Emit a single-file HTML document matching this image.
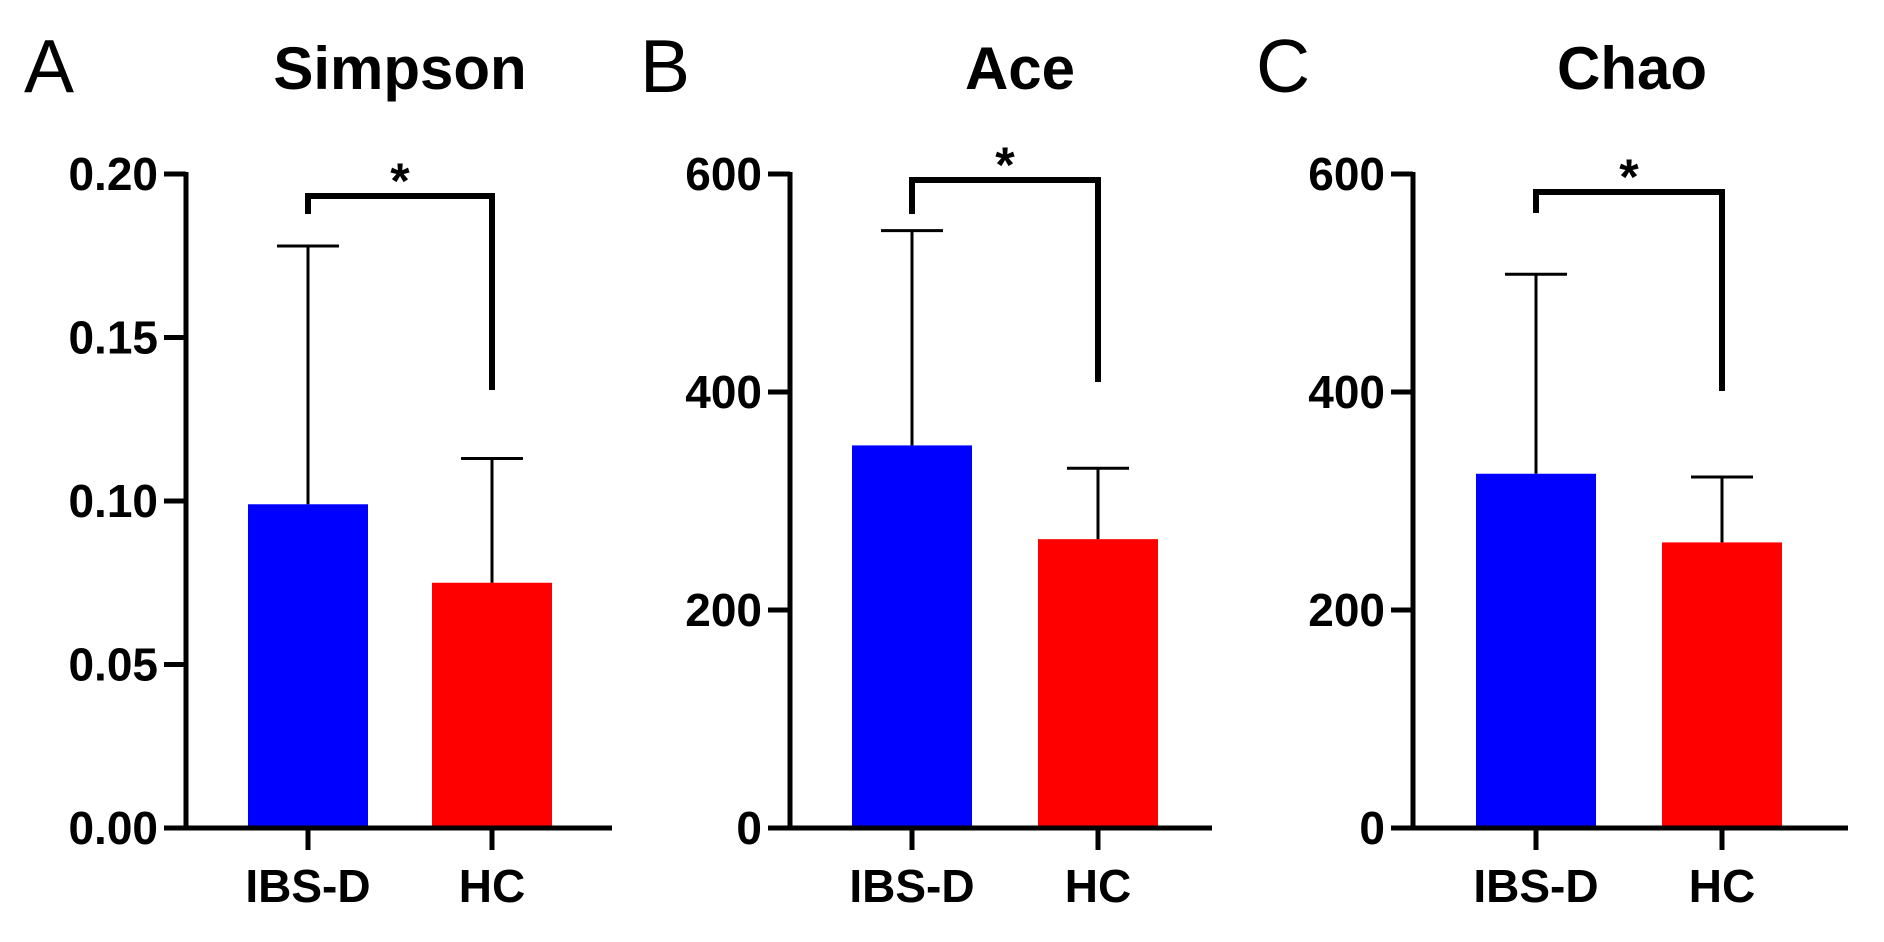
<!DOCTYPE html>
<html><head><meta charset="utf-8"><style>
html,body{margin:0;padding:0;background:#fff;}
svg{display:block;font-family:"Liberation Sans",Arial,sans-serif;}
</style></head><body>
<svg id="fig" width="1884" height="942" viewBox="0 0 1884 942"></svg>
<script>
const categories = ["IBS-D", "HC"];
const panelLetters = ["A", "B", "C"];
const panelTitles = ["Simpson", "Ace", "Chao"];
const simpsonMeans = [0.099, 0.075];
const simpsonErrors = [0.178, 0.113];
const aceMeans = [351, 265];
const aceErrors = [548, 330];
const chaoMeans = [325, 262];
const chaoErrors = [508, 322];
const simpsonTicks = [0, 0.05, 0.10, 0.15, 0.20];
const simpsonTickLabels = ["0.00", "0.05", "0.10", "0.15", "0.20"];
const countTicks = [0, 200, 400, 600];
const countTickLabels = ["0", "200", "400", "600"];

const NS = "http://www.w3.org/2000/svg";
const svg = document.getElementById("fig");
function mk(tag, attrs, parent) {
  const e = document.createElementNS(NS, tag);
  for (const k in attrs) e.setAttribute(k, attrs[k]);
  (parent || svg).appendChild(e);
  return e;
}
const panels = [
  {axisX:186, axisEnd:612, letterX:24, titleX:400, max:0.2, means:simpsonMeans, errs:simpsonErrors, ticks:simpsonTicks, labels:simpsonTickLabels, barX:[248,432], brY:[214,390], brTop:196},
  {axisX:790, axisEnd:1212, letterX:640, titleX:1020, max:600, means:aceMeans, errs:aceErrors, ticks:countTicks, labels:countTickLabels, barX:[852,1038], brY:[214,382], brTop:180},
  {axisX:1413, axisEnd:1848, letterX:1256, titleX:1632, max:600, means:chaoMeans, errs:chaoErrors, ticks:countTicks, labels:countTickLabels, barX:[1476,1662], brY:[213,391], brTop:192}
];
const Y0 = 828, YTOP = 174, BARW = 120;
const colors = ["#0000ff", "#ff0000"];
panels.forEach((p, i) => {
  const g = mk("g", {});
  
  
  const y = v => Y0 - (v / p.max) * (Y0 - YTOP);
  const letter = mk("text", {x:p.letterX, y:92, "font-size":75, fill:"#000"}, g);
  letter.textContent = panelLetters[i];
  
  
  const t = mk("text", {x:p.titleX, y:89, "font-size":60, "font-weight":"bold", "text-anchor":"middle"}, g);
  t.textContent = panelTitles[i];
  
  
  categories.forEach((c, j) => {
    const x = p.barX[j], cx = x + BARW / 2;
    const b = mk("rect", {x:x, y:y(p.means[j]), width:BARW, height:Y0 - y(p.means[j]), fill:colors[j]}, g);
    
    
    const e = mk("path", {d:`M${cx} ${y(p.means[j])}V${y(p.errs[j])}M${cx-31} ${y(p.errs[j])}H${cx+31}`, stroke:"#000", "stroke-width":3, fill:"none"}, g);
    
    
    const tk = mk("line", {x1:cx, y1:Y0, x2:cx, y2:Y0 + 22, stroke:"#000", "stroke-width":5}, g);
    
    
    const lb = mk("text", {x:cx, y:902, "font-size":46, "font-weight":"bold", "text-anchor":"middle"}, g);
    lb.textContent = c;
    
    
  });
  const ax = mk("path", {d:`M${p.axisX} ${YTOP-2}V${Y0}H${p.axisEnd}`, stroke:"#000", "stroke-width":5, fill:"none"}, g);
  
  
  p.ticks.forEach((v, k) => {
    const tl = mk("line", {x1:p.axisX - 22, y1:y(v), x2:p.axisX, y2:y(v), stroke:"#000", "stroke-width":5}, g);
    
    
    const tx = mk("text", {x:p.axisX - 28, y:y(v) + 16, "font-size":46, "font-weight":"bold", "text-anchor":"end"}, g);
    tx.textContent = p.labels[k];
    
    
  });
  const lx = p.barX[0] + BARW / 2, rx = p.barX[1] + BARW / 2;
  const br = mk("path", {d:`M${lx} ${p.brY[0]}V${p.brTop}H${rx}V${p.brY[1]}`, stroke:"#000", "stroke-width":6, fill:"none"}, g);
  
  
  const st = mk("text", {x:(lx + rx) / 2, y:p.brTop + 2, "font-size":50, "font-weight":"bold", "text-anchor":"middle"}, g);
  st.textContent = "*";
  
  
});
</script>
</body></html>
